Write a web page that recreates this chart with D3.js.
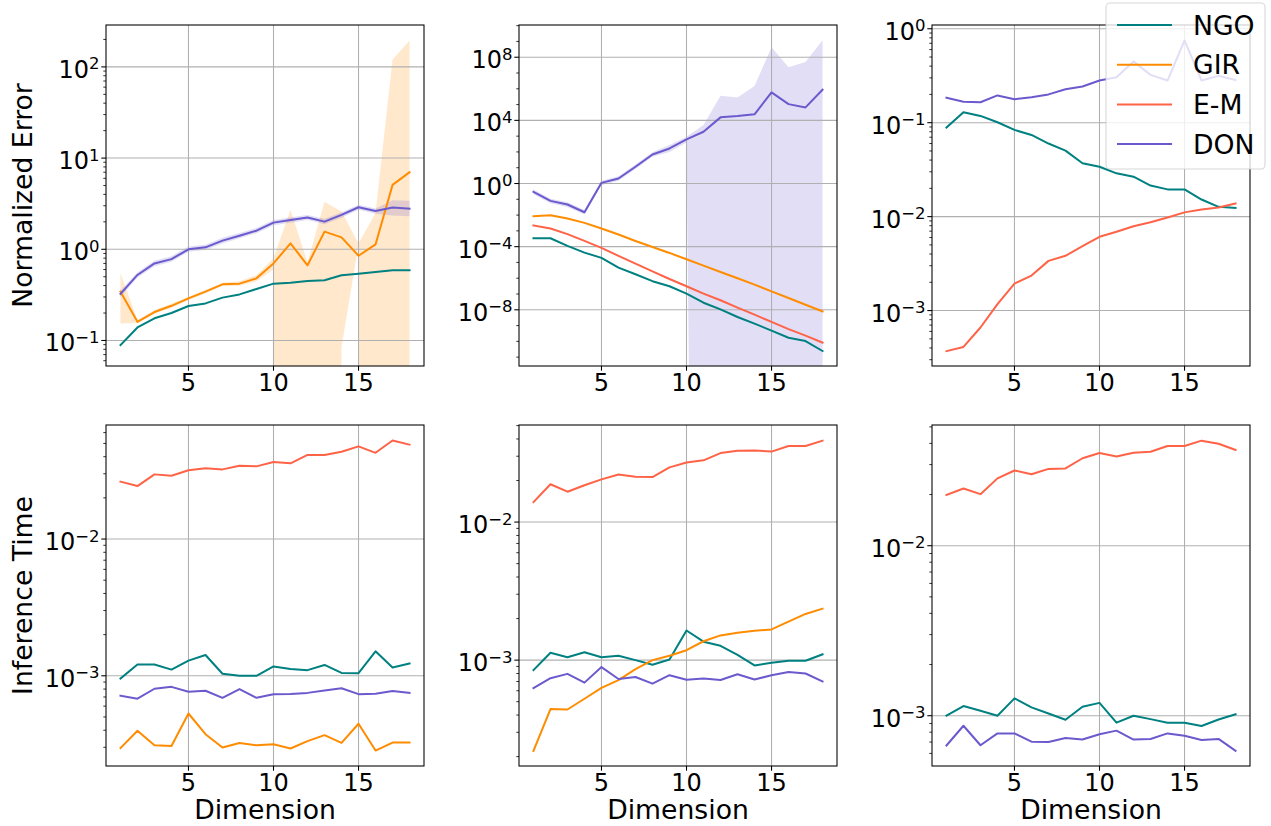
<!DOCTYPE html>
<html>
<head>
<meta charset="utf-8">
<script src="https://cdn.jsdelivr.net/npm/d3@7/dist/d3.min.js"></script>
<style>
  body { margin: 0; background: #fff; }
  text { font-family: "DejaVu Sans", sans-serif; fill: #000; }
</style>
</head>
<body>
<svg id="fig" width="1271" height="826"></svg>
<script>
// dimension values on the x axis
const dims = [1, 2, 3, 4, 5, 6, 7, 8, 9, 10, 11, 12, 13, 14, 15, 16, 17, 18];
const xTicks = [5, 10, 15];
const methods = ['NGO', 'GIR', 'E-M', 'DON'];

// --- Normalized error, panel 1 ---
const errNgo1 = [0.089, 0.139, 0.175, 0.20, 0.239, 0.255, 0.295, 0.32, 0.367, 0.42, 0.43, 0.45, 0.457, 0.519, 0.54, 0.564, 0.588, 0.588];
const errGir1 = [0.343, 0.16, 0.205, 0.24, 0.29, 0.343, 0.413, 0.42, 0.48, 0.70, 1.16, 0.667, 1.56, 1.35, 0.85, 1.13, 5.08, 7.0];
const errGir1Hi = [0.545, 0.168, 0.215, 0.252, 0.302, 0.357, 0.43, 0.445, 0.52, 0.80, 2.7, 0.72, 3.33, 2.59, 1.16, 2.5, 120, 195];
const errGir1Lo = [0.154, 0.155, 0.196, 0.229, 0.278, 0.330, 0.397, 0.398, 0.445, 0.6, 0, 0, 0, 0.085, 1.12, 0, 0, 0];
const errDon1 = [0.324, 0.523, 0.70, 0.78, 1.0, 1.05, 1.245, 1.41, 1.6, 1.96, 2.1, 2.23, 2.01, 2.38, 2.89, 2.63, 2.87, 2.79];
const errDon1Hi = [0.35, 0.56, 0.75, 0.84, 1.07, 1.12, 1.34, 1.51, 1.71, 2.1, 2.25, 2.38, 2.16, 2.55, 3.08, 2.8, 3.45, 3.4];
const errDon1Lo = [0.30, 0.49, 0.65, 0.73, 0.94, 0.98, 1.16, 1.32, 1.5, 1.83, 1.96, 2.09, 1.88, 2.22, 2.71, 2.45, 2.35, 2.3];

// --- Normalized error, panel 2 ---
const errNgo2 = [3.4e-4, 3.4e-4, 1.12e-4, 4.2e-5, 1.95e-5, 4.7e-6, 1.78e-6, 6.5e-7, 3.1e-7, 1.05e-7, 2.8e-8, 1.07e-8, 3.5e-9, 1.32e-9, 4.8e-10, 1.7e-10, 1.05e-10, 2.45e-11];
const errGir2 = [8.5e-3, 9.8e-3, 6.0e-3, 3.2e-3, 1.41e-3, 5.9e-4, 2.3e-4, 9.5e-5, 4.0e-5, 1.58e-5, 6.3e-6, 2.5e-6, 1.0e-6, 3.9e-7, 1.48e-7, 5.6e-8, 2.1e-8, 7.9e-9];
const errEm2 = [2.2e-3, 1.41e-3, 6.2e-4, 2.3e-4, 8.3e-5, 2.6e-5, 8.5e-6, 2.75e-6, 8.9e-7, 3.1e-7, 1.05e-7, 4.0e-8, 1.38e-8, 4.9e-9, 1.7e-9, 6.0e-10, 2.3e-10, 8.3e-11];
const errDon2 = [0.295, 0.0794, 0.0468, 0.0151, 1.10, 2.09, 11.5, 69.2, 166, 617, 1905, 15500, 18600, 24000, 589000, 107000, 66100, 871000];
const errDon2Hi = [0.41, 0.11, 0.066, 0.021, 1.5, 2.9, 16, 97, 280, 912, 5000, 363000, 282000, 1.48e6, 4.27e8, 2.29e7, 5.0e7, 1.17e9];
const errDon2Lo = [0.21, 0.057, 0.033, 0.011, 0.78, 1.5, 8.2, 49, 100, 400, 0, 0, 0, 0, 0, 0, 0, 0];

// --- Normalized error, panel 3 ---
const errNgo3 = [0.0887, 0.129, 0.118, 0.101, 0.0838, 0.074, 0.060, 0.0504, 0.037, 0.034, 0.0289, 0.0266, 0.0214, 0.0195, 0.0195, 0.0152, 0.0127, 0.0124];
const errEm3 = [3.7e-4, 4.1e-4, 6.6e-4, 1.17e-3, 1.94e-3, 2.36e-3, 3.38e-3, 3.83e-3, 4.85e-3, 6.1e-3, 6.9e-3, 7.9e-3, 8.7e-3, 9.8e-3, 0.0111, 0.0119, 0.0125, 0.0138];
const errDon3 = [0.184, 0.167, 0.165, 0.195, 0.178, 0.187, 0.20, 0.227, 0.243, 0.281, 0.305, 0.449, 0.323, 0.281, 0.751, 0.281, 0.315, 0.285];

// --- Inference time ---
const timeNgo1 = [9.56e-4, 1.21e-3, 1.21e-3, 1.11e-3, 1.29e-3, 1.42e-3, 1.035e-3, 1.0e-3, 1.0e-3, 1.17e-3, 1.12e-3, 1.10e-3, 1.20e-3, 1.05e-3, 1.045e-3, 1.51e-3, 1.15e-3, 1.23e-3];
const timeGir1 = [2.96e-4, 3.96e-4, 3.11e-4, 3.07e-4, 5.3e-4, 3.74e-4, 2.99e-4, 3.23e-4, 3.1e-4, 3.16e-4, 2.94e-4, 3.33e-4, 3.68e-4, 3.23e-4, 4.46e-4, 2.84e-4, 3.25e-4, 3.25e-4];
const timeEm1 = [0.0263, 0.0244, 0.0297, 0.029, 0.0318, 0.0329, 0.0323, 0.0344, 0.034, 0.0366, 0.0358, 0.0412, 0.0412, 0.0435, 0.0476, 0.0427, 0.0525, 0.049];
const timeDon1 = [7.15e-4, 6.8e-4, 8.04e-4, 8.3e-4, 7.64e-4, 7.77e-4, 6.9e-4, 8.0e-4, 6.9e-4, 7.34e-4, 7.37e-4, 7.5e-4, 7.8e-4, 8.1e-4, 7.34e-4, 7.4e-4, 7.75e-4, 7.5e-4];

const timeNgo2 = [8.47e-4, 1.13e-3, 1.05e-3, 1.14e-3, 1.05e-3, 1.075e-3, 1.0e-3, 9.25e-4, 1.01e-3, 1.64e-3, 1.36e-3, 1.27e-3, 1.09e-3, 9.15e-4, 9.57e-4, 9.9e-4, 9.9e-4, 1.10e-3];
const timeGir2 = [2.2e-4, 4.42e-4, 4.39e-4, 5.25e-4, 6.3e-4, 7.16e-4, 8.6e-4, 1.0e-3, 1.075e-3, 1.18e-3, 1.37e-3, 1.51e-3, 1.58e-3, 1.63e-3, 1.67e-3, 1.9e-3, 2.16e-3, 2.36e-3];
const timeEm2 = [0.01396, 0.0188, 0.0166, 0.0185, 0.0204, 0.0221, 0.0213, 0.0212, 0.0249, 0.027, 0.028, 0.0316, 0.0329, 0.033, 0.0324, 0.0356, 0.0356, 0.0389];
const timeDon2 = [6.27e-4, 7.4e-4, 7.95e-4, 6.87e-4, 8.9e-4, 7.3e-4, 7.55e-4, 6.75e-4, 7.78e-4, 7.2e-4, 7.37e-4, 7.17e-4, 7.9e-4, 7.23e-4, 7.78e-4, 8.2e-4, 8.0e-4, 7.0e-4];

const timeNgo3 = [1.0e-3, 1.14e-3, 1.07e-3, 1.0e-3, 1.265e-3, 1.12e-3, 1.03e-3, 9.47e-4, 1.13e-3, 1.19e-3, 9.1e-4, 1.0e-3, 9.55e-4, 9.1e-4, 9.1e-4, 8.7e-4, 9.5e-4, 1.02e-3];
const timeEm3 = [0.0199, 0.0217, 0.0201, 0.0249, 0.0277, 0.0263, 0.0283, 0.0285, 0.0327, 0.0351, 0.0335, 0.0352, 0.0357, 0.0386, 0.0386, 0.0415, 0.0398, 0.0366];
const timeDon3 = [6.68e-4, 8.73e-4, 6.7e-4, 7.87e-4, 7.87e-4, 7.03e-4, 7.0e-4, 7.4e-4, 7.24e-4, 7.78e-4, 8.17e-4, 7.24e-4, 7.3e-4, 7.87e-4, 7.62e-4, 7.2e-4, 7.3e-4, 6.22e-4];

const colors = { 'NGO': '#008080', 'GIR': '#ff8c00', 'E-M': '#ff6347', 'DON': '#6a5acd' };

// layout
const colX = [[106, 424], [519, 837], [932, 1250]];
const rowY = [[25, 366], [425, 766]];

const panels = [
  { col: 0, row: 0, domain: [0.0525, 288], majors: [-1, 0, 1, 2], minors: 'subs', ylabel: 'Normalized Error',
    series: [['NGO', errNgo1], ['GIR', errGir1, errGir1Lo, errGir1Hi], ['DON', errDon1, errDon1Lo, errDon1Hi]] },
  { col: 1, row: 0, domain: [2.75e-12, 1.1e10], majors: [-8, -4, 0, 4, 8], minors: 'decades',
    series: [['NGO', errNgo2], ['GIR', errGir2], ['E-M', errEm2], ['DON', errDon2, errDon2Lo, errDon2Hi]] },
  { col: 2, row: 0, domain: [2.57e-4, 1.096], majors: [-3, -2, -1, 0], minors: 'subs',
    series: [['NGO', errNgo3], ['E-M', errEm3], ['DON', errDon3]] },
  { col: 0, row: 1, domain: [2.19e-4, 0.0682], majors: [-3, -2], minors: 'subs', ylabel: 'Inference Time', xlabel: 'Dimension',
    series: [['NGO', timeNgo1], ['GIR', timeGir1], ['E-M', timeEm1], ['DON', timeDon1]] },
  { col: 1, row: 1, domain: [1.71e-4, 0.0505], majors: [-3, -2], minors: 'subs', xlabel: 'Dimension',
    series: [['NGO', timeNgo2], ['GIR', timeGir2], ['E-M', timeEm2], ['DON', timeDon2]] },
  { col: 2, row: 1, domain: [5.06e-4, 0.0513], majors: [-3, -2], minors: 'subs', xlabel: 'Dimension',
    series: [['NGO', timeNgo3], ['E-M', timeEm3], ['DON', timeDon3]] }
];

const svg = d3.select('#fig');
const FLOOR = 1e-100; // non-positive values get clipped like matplotlib's log scale

function expLabel(sel, exp) {
  sel.append('tspan').text('10');
  sel.append('tspan')
    .attr('dy', -8.5)
    .style('font-size', '16.5px')
    .text(String(exp).replace('-', '\u2212'));
}

panels.forEach(function(p, i) {
  const [x0, x1] = colX[p.col];
  const [yTop, yBot] = rowY[p.row];
  const x = d3.scaleLinear().domain([0.15, 18.85]).range([x0, x1]);
  const y = d3.scaleLog().domain(p.domain).range([yBot, yTop]);
  const g = svg.append('g');

  const clipId = 'clip' + i;
  svg.append('clipPath').attr('id', clipId)
    .append('rect').attr('x', x0).attr('y', yTop).attr('width', x1 - x0).attr('height', yBot - yTop);
  const plot = g.append('g').attr('clip-path', 'url(#' + clipId + ')');

  // bands
  p.series.forEach(function(s) {
    if (!s[2]) return;
    const area = d3.area()
      .x((d, j) => x(dims[j]))
      .y0((d, j) => y(Math.max(s[2][j], FLOOR)))
      .y1((d, j) => y(Math.max(s[3][j], FLOOR)));
    plot.append('path').datum(s[1])
      .attr('d', area)
      .attr('fill', colors[s[0]])
      .attr('fill-opacity', 0.2);
  });

  // grid
  xTicks.forEach(function(t) {
    plot.append('line').attr('x1', x(t)).attr('x2', x(t)).attr('y1', yTop).attr('y2', yBot)
      .attr('stroke', '#b0b0b0').attr('stroke-width', 1.07);
  });
  p.majors.forEach(function(e) {
    plot.append('line').attr('x1', x0).attr('x2', x1).attr('y1', y(Math.pow(10, e))).attr('y2', y(Math.pow(10, e)))
      .attr('stroke', '#b0b0b0').attr('stroke-width', 1.07);
  });

  // lines
  const line = d3.line().x((d, j) => x(dims[j])).y(d => y(d));
  p.series.forEach(function(s) {
    plot.append('path').datum(s[1])
      .attr('d', line)
      .attr('fill', 'none')
      .attr('stroke', colors[s[0]])
      .attr('stroke-width', 2)
      .attr('stroke-linejoin', 'round')
      .attr('stroke-linecap', 'square');
  });

  // spines
  g.append('rect').attr('x', x0).attr('y', yTop).attr('width', x1 - x0).attr('height', yBot - yTop)
    .attr('fill', 'none').attr('stroke', '#000').attr('stroke-width', 1.07);

  // minor ticks
  const lo = Math.floor(Math.log10(p.domain[0])), hi = Math.ceil(Math.log10(p.domain[1]));
  const minorVals = [];
  for (let e = lo; e <= hi; e++) {
    if (p.minors === 'subs') {
      for (let k = 2; k <= 9; k++) minorVals.push(k * Math.pow(10, e));
    } else if (p.majors.indexOf(e) < 0) {
      minorVals.push(Math.pow(10, e));
    }
  }
  minorVals.filter(v => v >= p.domain[0] && v <= p.domain[1]).forEach(function(v) {
    g.append('line').attr('x1', x0 - 2.7).attr('x2', x0).attr('y1', y(v)).attr('y2', y(v))
      .attr('stroke', '#000').attr('stroke-width', 0.8);
  });

  // major y ticks + labels
  p.majors.forEach(function(e) {
    const yy = y(Math.pow(10, e));
    g.append('line').attr('x1', x0 - 4.7).attr('x2', x0).attr('y1', yy).attr('y2', yy)
      .attr('stroke', '#000').attr('stroke-width', 1.07);
    g.append('text')
      .attr('x', x0 - 6.5).attr('y', yy + 11)
      .attr('text-anchor', 'end')
      .style('font-size', '24px')
      .call(expLabel, e);
  });

  // x ticks + labels
  xTicks.forEach(function(t) {
    g.append('line').attr('x1', x(t)).attr('x2', x(t)).attr('y1', yBot).attr('y2', yBot + 4.7)
      .attr('stroke', '#000').attr('stroke-width', 1.07);
    g.append('text')
      .attr('x', x(t)).attr('y', yBot + 25)
      .attr('text-anchor', 'middle')
      .style('font-size', '24px')
      .text(t);
  });

  if (p.ylabel) {
    g.append('text')
      .attr('transform', 'translate(32,' + ((yTop + yBot) / 2) + ') rotate(-90)')
      .attr('text-anchor', 'middle')
      .style('font-size', '26.67px')
      .text(p.ylabel);
  }
  if (p.xlabel) {
    g.append('text')
      .attr('x', (x0 + x1) / 2).attr('y', 819)
      .attr('text-anchor', 'middle')
      .style('font-size', '26.67px')
      .text(p.xlabel);
  }
});

// legend
const leg = svg.append('g');
leg.append('rect')
  .attr('x', 1106).attr('y', 3).attr('width', 159).attr('height', 166).attr('rx', 4)
  .attr('fill', '#fff').attr('fill-opacity', 0.8)
  .attr('stroke', '#cccccc').attr('stroke-opacity', 0.8).attr('stroke-width', 1.07);
methods.forEach(function(m, k) {
  const yy = 25 + k * 39.7;
  leg.append('line').attr('x1', 1117).attr('x2', 1172).attr('y1', yy).attr('y2', yy)
    .attr('stroke', colors[m]).attr('stroke-width', 2);
  leg.append('text').attr('x', 1193).attr('y', yy + 9.7)
    .style('font-size', '26.67px')
    .text(m);
});
</script>
</body>
</html>
